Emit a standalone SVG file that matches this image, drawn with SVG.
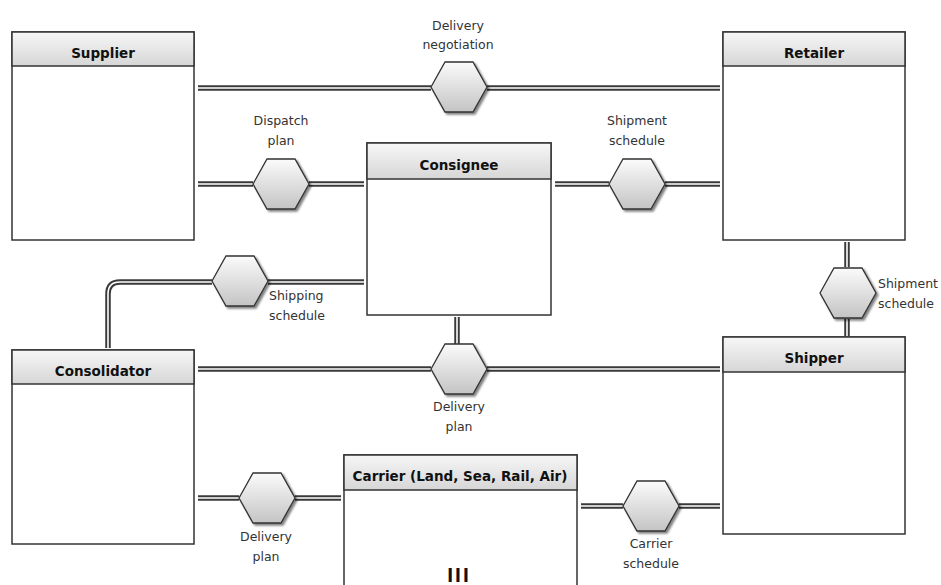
<svg xmlns="http://www.w3.org/2000/svg" width="941" height="585" viewBox="0 0 941 585">
  <defs>
    <linearGradient id="hdr" x1="0" y1="0" x2="0" y2="1">
      <stop offset="0" stop-color="#f7f7f7"/>
      <stop offset="1" stop-color="#d6d6d6"/>
    </linearGradient>
    <linearGradient id="hexfill" x1="0" y1="0" x2="0" y2="1">
      <stop offset="0" stop-color="#fbfbfb"/>
      <stop offset="1" stop-color="#c4c4c4"/>
    </linearGradient>
    <filter id="shadow" x="-20%" y="-20%" width="150%" height="150%">
      <feGaussianBlur in="SourceAlpha" stdDeviation="1"/>
      <feOffset dx="2" dy="2" result="b"/>
      <feComponentTransfer><feFuncA type="linear" slope="0.5"/></feComponentTransfer>
      <feMerge><feMergeNode/><feMergeNode in="SourceGraphic"/></feMerge>
    </filter>
    <polygon id="hex" points="-28,0 -14,-25 14,-25 28,0 14,25 -14,25"/>
  </defs>
  <style>
    .box { fill: #ffffff; stroke: #333333; stroke-width: 1.5; }
    .head { fill: url(#hdr); stroke: #333333; stroke-width: 1.5; }
    .title { font-family: "DejaVu Sans", Verdana, sans-serif; font-size: 13.5px; font-weight: bold; fill: #111111; text-anchor: middle; }
    .lbl { font-family: "DejaVu Sans", Verdana, sans-serif; font-size: 12.5px; fill: #333333; text-anchor: middle; }
    .lbl-l { font-family: "DejaVu Sans", Verdana, sans-serif; font-size: 12.5px; fill: #333333; text-anchor: start; }
    .outer { fill: none; stroke: #3a3a3a; stroke-width: 5.5; }
    .inner { fill: none; stroke: #ffffff; stroke-width: 1.6; }
    .hexs { fill: url(#hexfill); stroke: #333333; stroke-width: 1.3; filter: url(#shadow); }
  </style>

  <rect width="941" height="585" fill="#ffffff"/>

  <!-- double-line associations -->
  <g id="connectors">
    <g class="outer">
      <path d="M198,88 H431 M487,88 H720"/>
      <path d="M198,184 H253 M309,184 H364"/>
      <path d="M555,184 H609 M665,184 H720"/>
      <path d="M364,282 H268 M212,282 H120 Q108,282 108,294 V348"/>
      <path d="M457,317 V344"/>
      <path d="M198,369 H431 M487,369 H720"/>
      <path d="M847,242 V267 M847,319 V336"/>
      <path d="M198,498 H239 M295,498 H341"/>
      <path d="M581,506 H623 M679,506 H720"/>
    </g>
    <g class="inner">
      <path d="M198,88 H431 M487,88 H720"/>
      <path d="M198,184 H253 M309,184 H364"/>
      <path d="M555,184 H609 M665,184 H720"/>
      <path d="M364,282 H268 M212,282 H120 Q108,282 108,294 V348"/>
      <path d="M457,317 V344"/>
      <path d="M198,369 H431 M487,369 H720"/>
      <path d="M847,242 V267 M847,319 V336"/>
      <path d="M198,498 H239 M295,498 H341"/>
      <path d="M581,506 H623 M679,506 H720"/>
    </g>
  </g>

  <!-- association hexagons -->
  <g id="assoc-delivery-negotiation">
    <use href="#hex" class="hexs" x="459" y="87"/>
    <text class="lbl" x="458" y="30">Delivery</text>
    <text class="lbl" x="458" y="49">negotiation</text>
  </g>
  <g id="assoc-dispatch-plan">
    <use href="#hex" class="hexs" x="281" y="184"/>
    <text class="lbl" x="281" y="125">Dispatch</text>
    <text class="lbl" x="281" y="145">plan</text>
  </g>
  <g id="assoc-shipment-schedule">
    <use href="#hex" class="hexs" x="637" y="184"/>
    <text class="lbl" x="637" y="125">Shipment</text>
    <text class="lbl" x="637" y="145">schedule</text>
  </g>
  <g id="assoc-shipping-schedule">
    <use href="#hex" class="hexs" x="240" y="281"/>
    <text class="lbl-l" x="269" y="300">Shipping</text>
    <text class="lbl-l" x="269" y="320">schedule</text>
  </g>
  <g id="assoc-delivery-plan-mid">
    <use href="#hex" class="hexs" x="459" y="369"/>
    <text class="lbl" x="459" y="411">Delivery</text>
    <text class="lbl" x="459" y="431">plan</text>
  </g>
  <g id="assoc-shipment-schedule-2">
    <use href="#hex" class="hexs" x="848" y="293"/>
    <text class="lbl-l" x="878" y="288">Shipment</text>
    <text class="lbl-l" x="878" y="308">schedule</text>
  </g>
  <g id="assoc-delivery-plan-low">
    <use href="#hex" class="hexs" x="267" y="498"/>
    <text class="lbl" x="266" y="541">Delivery</text>
    <text class="lbl" x="266" y="561">plan</text>
  </g>
  <g id="assoc-carrier-schedule">
    <use href="#hex" class="hexs" x="651" y="506"/>
    <text class="lbl" x="651" y="548">Carrier</text>
    <text class="lbl" x="651" y="568">schedule</text>
  </g>

  <!-- entity boxes -->
  <g id="supplier">
    <rect class="box" x="12" y="32" width="182" height="208"/>
    <rect class="head" x="12" y="32" width="182" height="34"/>
    <text class="title" x="103" y="58">Supplier</text>
  </g>
  <g id="retailer">
    <rect class="box" x="723" y="32" width="182" height="208"/>
    <rect class="head" x="723" y="32" width="182" height="34"/>
    <text class="title" x="814" y="58">Retailer</text>
  </g>
  <g id="consignee">
    <rect class="box" x="367" y="143" width="184" height="172"/>
    <rect class="head" x="367" y="143" width="184" height="36"/>
    <text class="title" x="459" y="170">Consignee</text>
  </g>
  <g id="consolidator">
    <rect class="box" x="12" y="350" width="182" height="194"/>
    <rect class="head" x="12" y="350" width="182" height="34"/>
    <text class="title" x="103" y="376">Consolidator</text>
  </g>
  <g id="shipper">
    <rect class="box" x="723" y="337" width="182" height="197"/>
    <rect class="head" x="723" y="337" width="182" height="35"/>
    <text class="title" x="814" y="363">Shipper</text>
  </g>
  <g id="carrier">
    <rect class="box" x="344" y="455" width="233" height="140"/>
    <rect class="head" x="344" y="455" width="233" height="35"/>
    <text class="title" x="460" y="481">Carrier (Land, Sea, Rail, Air)</text>
    <text x="459" y="582" font-family="Liberation Sans, Arial, sans-serif" font-size="21" font-weight="bold" letter-spacing="2" fill="#111111" text-anchor="middle">III</text>
  </g>
</svg>
